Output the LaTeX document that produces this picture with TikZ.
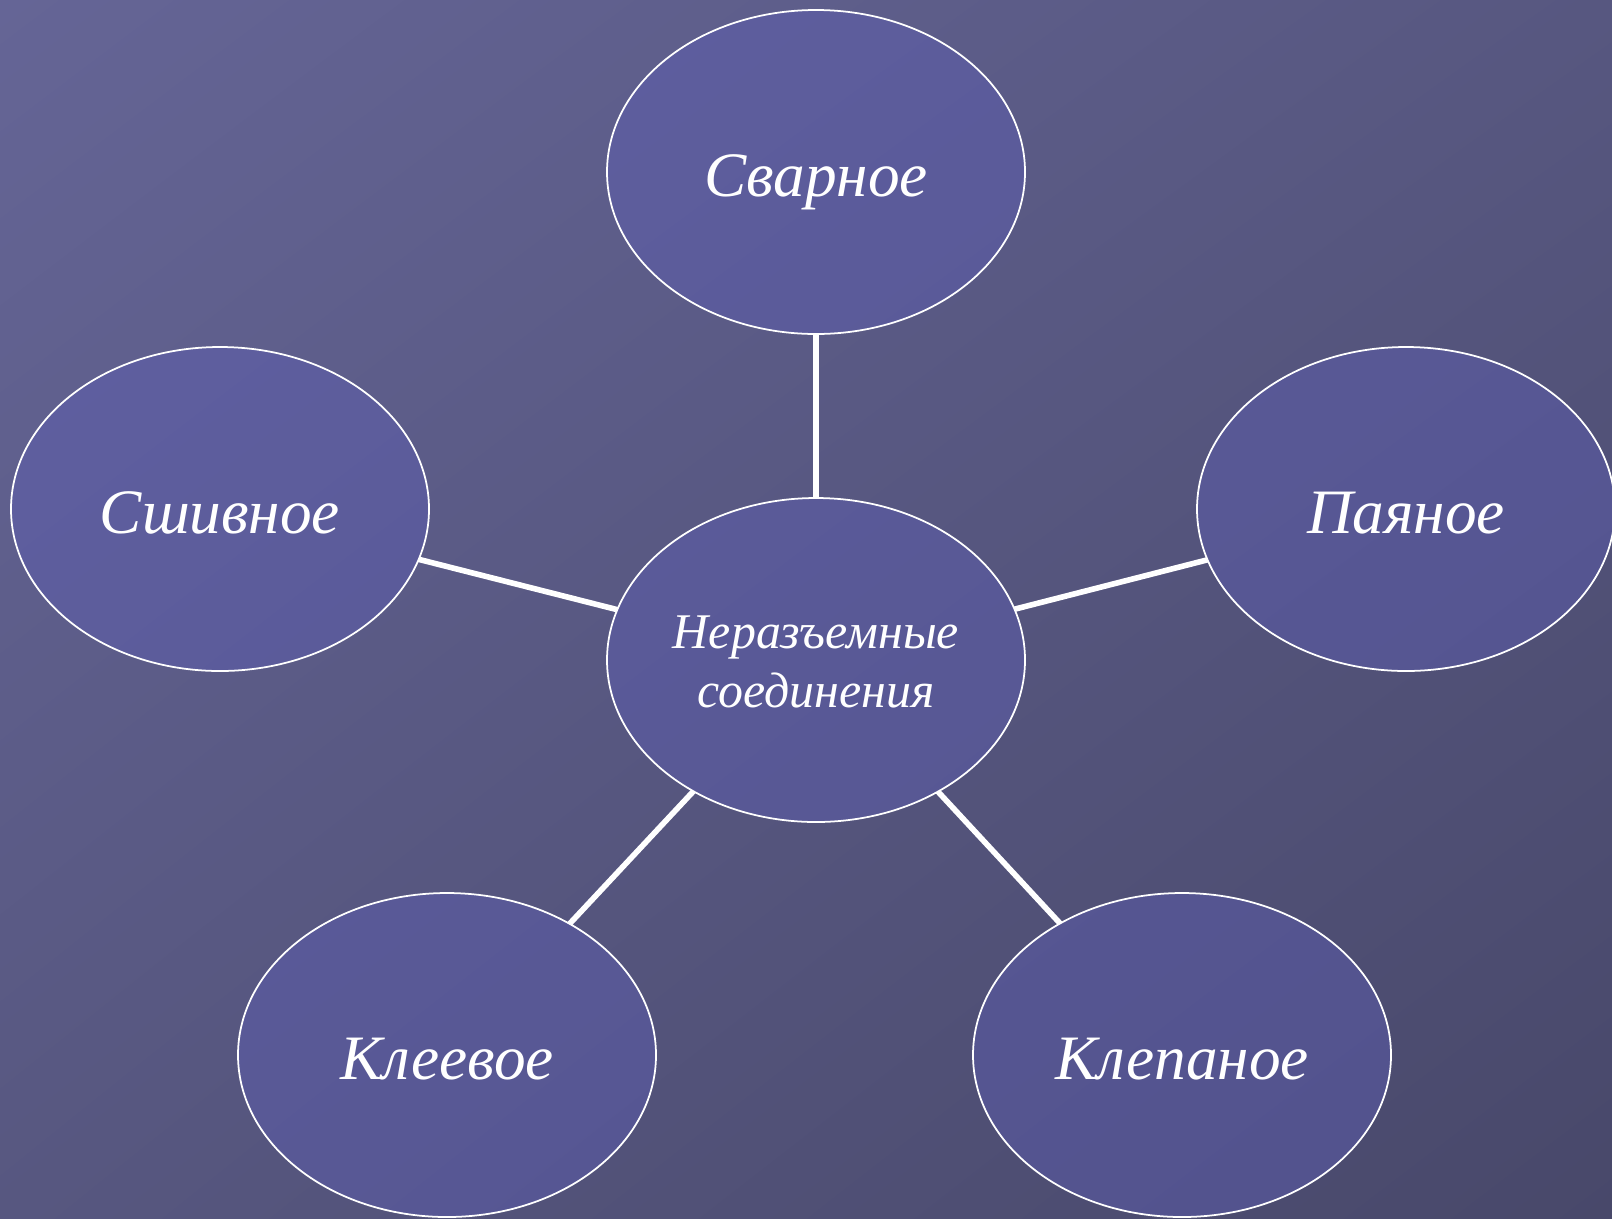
\documentclass[tikz,border=0pt]{standalone}
\usepackage{fontspec}
\setmainfont{Liberation Serif}
\usetikzlibrary{shapes.geometric,positioning,shadings}

\definecolor{bgtl}{RGB}{101,101,150}
\definecolor{bgbr}{RGB}{72,72,106}
\definecolor{bgmid}{RGB}{87,87,128}
\definecolor{ovalfill}{RGB}{93,93,180}

\begin{document}
\begin{tikzpicture}[
    joint/.style={ellipse, draw=white, line width=0.5pt, fill=ovalfill, fill opacity=0.45,
        text opacity=1, text=white, minimum width=4.18cm, minimum height=3.24cm,
        inner sep=0pt, outer sep=0pt, text height=13.9pt, text depth=0pt,
        font=\fontsize{18}{22}\selectfont\itshape},
    hubtext/.style={font=\fontsize{14.2}{17}\selectfont\itshape, align=center,
        text height=27.3pt, text depth=0pt},
    link/.style={draw=white, line width=1.6pt}]
                    % background
                    \useasboundingbox (0,0) rectangle (16.12,-12.18);
                    \shade[upper left=bgtl, upper right=bgmid, lower left=bgmid, lower right=bgbr]
                        (0,0) rectangle (16.12,-12.18);
                    \node (hub) [joint, hubtext] at (8.16,-6.60) {
                    Неразъемные\\соединения};
                    \node (svar) [joint, above=1.64cm of hub] {
                    Сварное};
                    \node (shiv) [joint] at (2.20,-5.09) {
                    Сшивное};
                    \node (payan) [joint] at (14.06,-5.09) {
                    Паяное};
                    \node (kleev) [joint] at (4.47,-10.55) {
                    Клеевое};
                    \node (klep) [joint] at (11.82,-10.55) {
                    Клепаное};
                \draw[link] (hub) to (svar);
                \draw[link] (hub) to (shiv);
                \draw[link] (hub) to (payan);
                \draw[link] (hub) to (kleev);
                \draw[link] (hub) to (klep);
            \end{tikzpicture}
\end{document}
